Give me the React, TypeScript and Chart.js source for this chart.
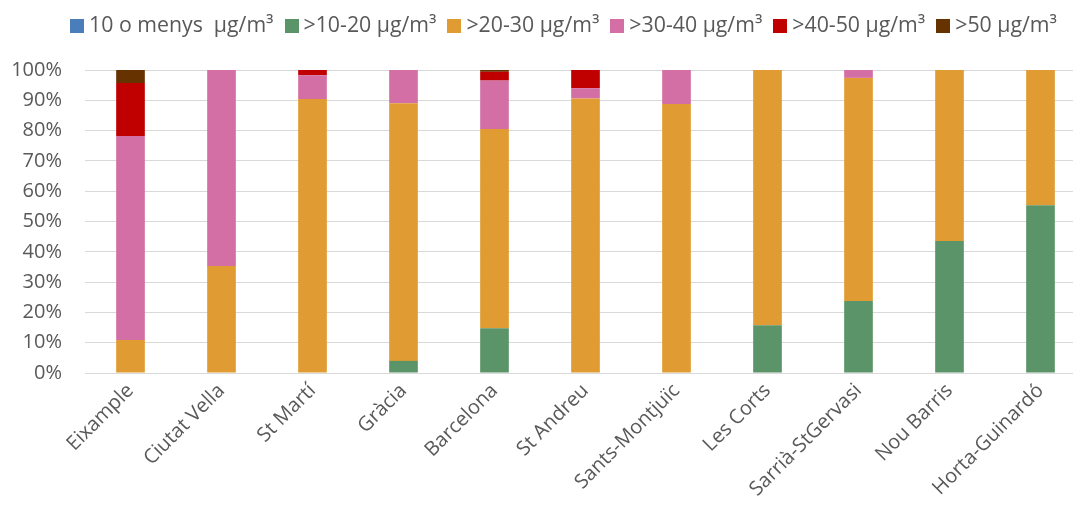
import React, { useEffect, useRef } from "react";
import { Chart, registerables } from "chart.js";

Chart.register(...registerables);

const categories = [
  "Eixample",
  "Ciutat Vella",
  "St Martí",
  "Gràcia",
  "Barcelona",
  "St Andreu",
  "Sants-Montjuïc",
  "Les Corts",
  "Sarrià-StGervasi",
  "Nou Barris",
  "Horta-Guinardó",
];

const seriesNames = [
  "10 o menys  µg/m³",
  ">10-20 µg/m³",
  ">20-30 µg/m³",
  ">30-40 µg/m³",
  ">40-50 µg/m³",
  ">50 µg/m³",
];

const upTo10 = [0, 0, 0, 0, 0, 0, 0, 0, 0, 0, 0];
const from10to20 = [0, 0, 0, 4, 14.8, 0, 0, 15.8, 23.8, 43.6, 55.4];
const from20to30 = [10.9, 35.3, 90.4, 85, 65.7, 90.6, 88.8, 84.2, 73.6, 56.4, 44.6];
const from30to40 = [67.3, 64.7, 7.9, 11, 16, 3.4, 11.2, 0, 2.6, 0, 0];
const from40to50 = [17.5, 0, 1.7, 0, 2.9, 6, 0, 0, 0, 0, 0];
const over50 = [4.3, 0, 0, 0, 0.6, 0, 0, 0, 0, 0, 0];

const yTicks = [0, 10, 20, 30, 40, 50, 60, 70, 80, 90, 100];

const colors = ["#4A7EBB", "#5B9469", "#E09C33", "#D46FA5", "#C00000", "#663300"];

const FONT = "'Open Sans', 'Noto Sans', sans-serif";
const TEXT = "#595959";
const GRID = "#D9D9D9";

// Legend drawn from the chart's own datasets: 14px box, 5px gap to text, 11px between items
const topLegend = {
  id: "topLegend",
  afterDraw(chart: any) {
    const ctx = chart.ctx;
    const box = 14;
    const gap = 5;
    const between = 11;
    const centerX = 563.5;
    const centerY = 26;
    ctx.save();
    ctx.font = `21.3px ${FONT}`;
    const items = chart.data.datasets.map((ds: any) => ({
      text: ds.label,
      color: ds.backgroundColor,
      w: ctx.measureText(ds.label).width,
    }));
    const total =
      items.reduce((s: number, it: any) => s + box + gap + it.w, 0) + between * (items.length - 1);
    let x = Math.round(centerX - total / 2);
    ctx.textBaseline = "middle";
    ctx.textAlign = "left";
    for (const it of items) {
      ctx.fillStyle = it.color;
      ctx.fillRect(Math.round(x), centerY - box / 2, box, box);
      ctx.fillStyle = TEXT;
      ctx.fillText(it.text, x + box + gap, centerY);
      x += box + gap + it.w + between;
    }
    ctx.restore();
  },
};

export default function App() {
  const canvasRef = useRef<HTMLCanvasElement | null>(null);

  useEffect(() => {
    const canvas = canvasRef.current;
    if (!canvas) return;
    const values = [upTo10, from10to20, from20to30, from30to40, from40to50, over50];
    const chart = new Chart(canvas, {
      type: "bar",
      data: {
        labels: categories,
        datasets: values.map((v, i) => ({
          label: seriesNames[i],
          data: v,
          backgroundColor: colors[i],
          borderWidth: 0,
          categoryPercentage: 1,
          barPercentage: 0.315,
        })),
      },
      plugins: [topLegend],
      options: {
        animation: false,
        responsive: false,
        maintainAspectRatio: false,
        layout: { padding: { top: 70, left: 0, right: 14, bottom: 0 } },
        plugins: {
          legend: { display: false },
          tooltip: { enabled: false },
        },
        scales: {
          x: {
            stacked: true,
            grid: { display: false, drawTicks: false },
            border: { display: true, color: GRID, width: 1 },
            ticks: {
              color: TEXT,
              font: { family: FONT, size: 20 },
              maxRotation: 45,
              minRotation: 45,
              autoSkip: false,
              padding: 6,
            },
            afterFit: (scale: any) => {
              scale.height = 140;
            },
          },
          y: {
            stacked: true,
            min: 0,
            max: 100,
            grid: { color: GRID, drawTicks: false, lineWidth: 1 },
            border: { display: false },
            afterBuildTicks: (scale: any) => {
              scale.ticks = yTicks.map((v) => ({ value: v }));
            },
            ticks: {
              color: TEXT,
              font: { family: FONT, size: 20 },
              padding: 23,
              callback: (v: any) => v + "%",
            },
            afterFit: (scale: any) => {
              scale.width = 85;
            },
          },
        },
      },
    });
    return () => chart.destroy();
  }, []);

  return (
    <div
      style={{
        position: "fixed",
        left: 0,
        top: 0,
        width: 1073,
        height: 513,
        overflow: "hidden",
        background: "#fff",
      }}
    >
      <canvas ref={canvasRef} width={1100} height={513} style={{ display: "block" }} />
    </div>
  );
}
